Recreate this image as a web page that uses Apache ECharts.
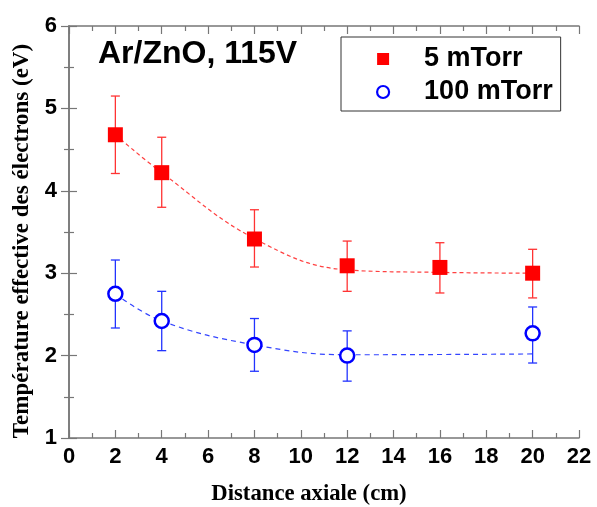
<!DOCTYPE html>
<html><head><meta charset="utf-8">
<script src="https://cdn.jsdelivr.net/npm/echarts@6/dist/echarts.min.js"></script>
<style>html,body{margin:0;padding:0;background:#fff}#c{width:597px;height:507px}</style>
</head><body><div id="c"></div>
<script>
const xRed = [2, 4, 8, 12, 16, 20];
const yRed = [4.68, 4.22, 3.415, 3.09, 3.07, 3.0];
const errRedLow = [4.21, 3.80, 3.075, 2.78, 2.76, 2.70];
const errRedHigh = [5.15, 4.65, 3.77, 3.39, 3.37, 3.29];
const fitRedX = [2, 4, 8, 12, 16, 20];
const fitRedY = [4.68, 4.22, 3.42, 3.04, 3.01, 3.0];

const xBlue = [2, 4, 8, 12, 20];
const yBlue = [2.75, 2.42, 2.13, 2.0, 2.27];
const errBlueLow = [2.335, 2.06, 1.81, 1.69, 1.91];
const errBlueHigh = [3.16, 2.78, 2.45, 2.30, 2.59];
const fitBlueX = [2, 4, 8, 12, 20];
const fitBlueY = [2.75, 2.42, 2.13, 2.01, 2.02];

const xTicks = [0,2,4,6,8,10,12,14,16,18,20,22];
const yTicks = [1,2,3,4,5,6];

const zip = (a,b) => a.map((v,i)=>[v,b[i]]);

function errSeries(xs, lo, hi, color){
  return {
    type:'custom', silent:true, z:3,
    data: xs.map((x,i)=>[x, lo[i], hi[i]]),
    renderItem: function(params, api){
      const x = api.value(0);
      const p1 = api.coord([x, api.value(1)]);
      const p2 = api.coord([x, api.value(2)]);
      const w = 4.5;
      const st = {stroke: color, lineWidth: 1.3};
      return {type:'group', children:[
        {type:'line', shape:{x1:p1[0],y1:p1[1],x2:p2[0],y2:p2[1]}, style:st},
        {type:'line', shape:{x1:p1[0]-w,y1:p1[1],x2:p1[0]+w,y2:p1[1]}, style:st},
        {type:'line', shape:{x1:p2[0]-w,y1:p2[1],x2:p2[0]+w,y2:p2[1]}, style:st}
      ]};
    }
  };
}

const axisCommon = {
  axisLine:{show:true, lineStyle:{color:'#777', width:1.5}},
  axisTick:{show:true, inside:true, length:8, lineStyle:{color:'#777', width:1.2}},
  minorTick:{show:true, splitNumber:2, length:5, lineStyle:{color:'#777', width:1.2}},
  splitLine:{show:false}
};

const chart = echarts.init(document.getElementById('c'), null, {renderer:'canvas'});
chart.setOption({
  animation:false,
  backgroundColor:'#fff',
  grid:{left:69, right:18, top:26, bottom:69, containLabel:false, outerBoundsMode:'none'},
  title:{text:'Ar/ZnO, 115V', left:93, top:33,
    textStyle:{fontFamily:'Liberation Sans, Arial', fontWeight:'bold', fontSize:32, color:'#000'}},
  legend:{
    orient:'vertical', left:341, top:37,
    borderColor:'#333', borderWidth:1,
    padding:[8, 8, 5, 35], itemGap:5,
    itemWidth:12, itemHeight:12,
    textStyle:{fontFamily:'Liberation Sans, Arial', fontWeight:'bold', fontSize:27, lineHeight:28, color:'#000', padding:[0,0,0,30]},
    data:[
      {name:'5 mTorr', icon:'rect', itemStyle:{color:'#ff0000'}},
      {name:'100 mTorr', icon:'circle', itemStyle:{color:'#fff', borderColor:'#0000ff', borderWidth:2.2}}
    ]
  },
  xAxis:[
    Object.assign({type:'value', min:0, max:22, interval:2, position:'bottom',
      name:'Distance axiale (cm)', nameLocation:'middle', nameGap:45,
      nameTextStyle:{fontFamily:'Liberation Serif, Times New Roman', fontWeight:'bold', fontSize:22.7, color:'#000', padding:[0,30,0,0]},
      axisLabel:{fontFamily:'Liberation Sans, Arial', fontWeight:'bold', fontSize:22, color:'#000', margin:8}
    }, axisCommon),
    Object.assign({type:'value', min:0, max:22, interval:2, position:'top', axisLabel:{show:false}}, axisCommon)
  ],
  yAxis:[
    Object.assign({type:'value', min:1, max:6, interval:1, position:'left',
      name:'Température effective des électrons (eV)', nameLocation:'middle', nameGap:33,
      nameTextStyle:{fontFamily:'Liberation Serif, Times New Roman', fontWeight:'bold', fontSize:23, color:'#000', padding:[0,18,0,0]},
      axisLabel:{fontFamily:'Liberation Sans, Arial', fontWeight:'bold', fontSize:22, color:'#000', margin:12}
    }, axisCommon),
    Object.assign({type:'value', min:1, max:6, interval:1, position:'right', axisLabel:{show:false}}, axisCommon)
  ],
  series:[
    {type:'line', name:'fit5', data:zip(fitRedX, fitRedY), smooth:0.4, showSymbol:false, silent:true, z:2,
      lineStyle:{color:'#ff4040', width:1.2, type:[4,3]}},
    {type:'line', name:'fit100', data:zip(fitBlueX, fitBlueY), smooth:0.4, showSymbol:false, silent:true, z:2,
      lineStyle:{color:'#3344ff', width:1.2, type:[5,4]}},
    errSeries(xRed, errRedLow, errRedHigh, '#ff3333'),
    errSeries(xBlue, errBlueLow, errBlueHigh, '#2233ff'),
    {type:'scatter', name:'5 mTorr', data:zip(xRed, yRed), symbol:'rect', symbolSize:15, z:5,
      itemStyle:{color:'#ff0000', opacity:1}},
    {type:'scatter', name:'100 mTorr', data:zip(xBlue, yBlue), symbol:'circle', symbolSize:14, z:5,
      itemStyle:{color:'#ffffff', borderColor:'#0000ff', borderWidth:2.5, opacity:1}}
  ]
});
</script></body></html>
